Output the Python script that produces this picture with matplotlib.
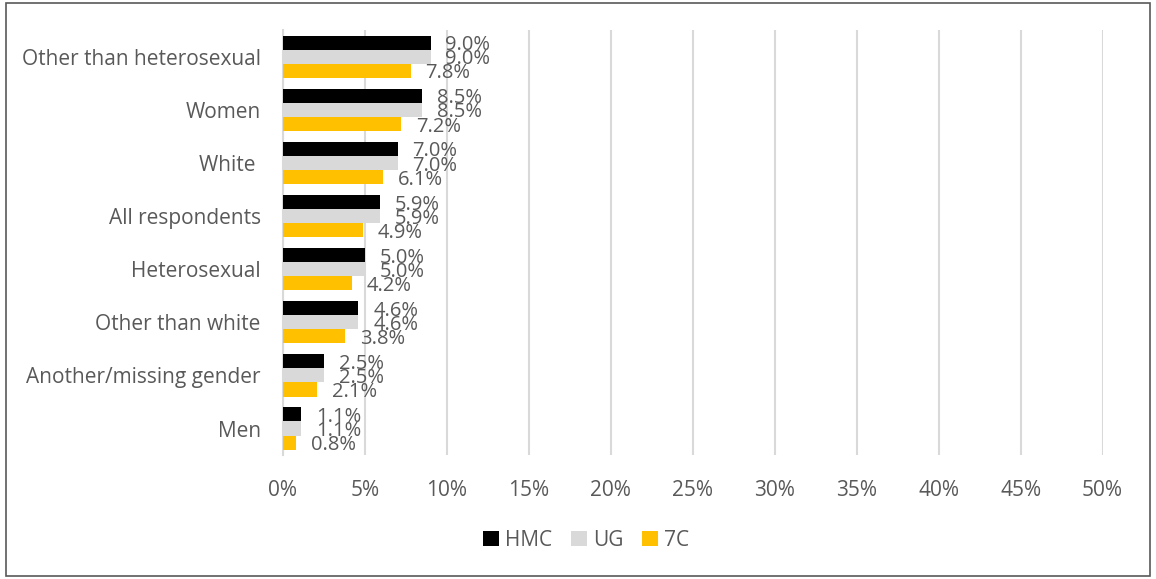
import matplotlib
matplotlib.use("Agg")
import matplotlib.pyplot as plt
import numpy as np
from matplotlib.patches import Rectangle

categories = ["Other than heterosexual", "Women", "White ", "All respondents",
              "Heterosexual", "Other than white", "Another/missing gender", "Men"]
hmc = [9.0, 8.5, 7.0, 5.9, 5.0, 4.6, 2.5, 1.1]
ug = [9.0, 8.5, 7.0, 5.9, 5.0, 4.6, 2.5, 1.1]
c7 = [7.8, 7.2, 6.1, 4.9, 4.2, 3.8, 2.1, 0.8]
series_names = ["HMC", "UG", "7C"]
colors = ["#000000", "#D9D9D9", "#FFC000"]
xticks = list(range(0, 55, 5))

plt.rcParams['font.family'] = ['Open Sans', 'DejaVu Sans']
fig = plt.figure(figsize=(11.56, 5.79), dpi=100)
ax = fig.add_axes([0.2448, 0.214, 0.709, 0.734])

y = np.arange(len(categories))
h = 0.265
txtc = "#595959"
for i, (vals, name, col) in enumerate(zip([hmc, ug, c7], series_names, colors)):
    pos = y + (i - 1) * h
    ax.barh(pos, vals, height=h, color=col, label=name, zorder=3)
    for p, v in zip(pos, vals):
        ax.text(v + 0.9, p + 0.05, f"{v:.1f}%", va="center", ha="left",
                fontsize=14.5, color=txtc, zorder=4)

ax.set_ylim(len(categories) - 0.5, -0.5)
ax.set_xlim(0, 50)
ax.set_yticks(y)
ax.set_yticklabels(categories, fontsize=15, color=txtc)
ax.set_xticks(xticks)
ax.set_xticklabels([f"{t}%" for t in xticks], fontsize=15, color=txtc)
ax.tick_params(axis='both', length=0)
ax.tick_params(axis='x', pad=18)
ax.tick_params(axis='y', pad=16)
ax.grid(axis='x', color="#D9D9D9", linewidth=1.5, zorder=0)
for s in ["top", "right", "bottom"]:
    ax.spines[s].set_visible(False)
ax.spines["left"].set_color("#D9D9D9")
ax.spines["left"].set_linewidth(1.5)

leg = fig.legend(loc="center", bbox_to_anchor=(0.507, 0.067), ncol=3, frameon=False,
                 fontsize=15, handlelength=0.75, handleheight=0.75, handletextpad=0.3,
                 columnspacing=0.9)
for t in leg.get_texts():
    t.set_color(txtc)

fig.patches.append(Rectangle((0.005, 0.005), 0.99, 0.99, transform=fig.transFigure,
                             fill=False, edgecolor="#595959", linewidth=1.2))
fig.savefig("out.png", dpi=100)
